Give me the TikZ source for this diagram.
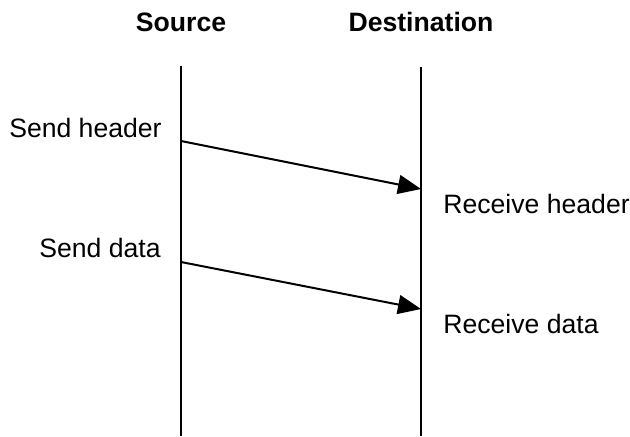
\documentclass[tikz,border=0pt]{standalone}
\usepackage{fontspec}
\setmainfont{Liberation Sans}
\usetikzlibrary{arrows.meta}
\begin{document}
\begin{tikzpicture}[
    x=0.5pt,
    y=-0.5pt,
    font=\fontsize{13.3}{16}\selectfont,
    inner sep=0pt,
    vida/.style={line width=1pt},
    mensaje/.style={line width=1pt,-{Triangle[length=11.5pt,width=9.5pt]}},
    titulo/.style={anchor=base,font=\fontsize{13.3}{16}\selectfont\bfseries},
    evento/.style={anchor=base east},
    recibo/.style={anchor=base west}
]
    \useasboundingbox (0,0) rectangle (630,436);

    % Lineas de vida
    \node[titulo] (src) at (181,31) {Source};
    \node[titulo] (dst) at (421,31) {Destination};
    \coordinate (srctop) at (181,66);
    \coordinate (srcbot) at (181,436);
    \coordinate (dsttop) at (421,67);
    \coordinate (dstbot) at (421,436);
    \draw[vida] (srctop) -- (srcbot);
    \draw[vida] (dsttop) -- (dstbot);

    % Mensajes
    \coordinate (h0) at (181,141);
    \coordinate (h1) at (421,189);
    \coordinate (d0) at (181,262);
    \coordinate (d1) at (421,309);
    \draw[mensaje] (h0) -- (h1);
    \draw[mensaje] (d0) -- (d1);

    % Rotulos
    \node[evento] (sh) at (162,137) {Send header};
    \node[evento] (sd) at (161,257) {Send data};
    \node[recibo] (rh) at (443,213) {Receive header};
    \node[recibo] (rd) at (443,333) {Receive data};
\end{tikzpicture}
\end{document}
